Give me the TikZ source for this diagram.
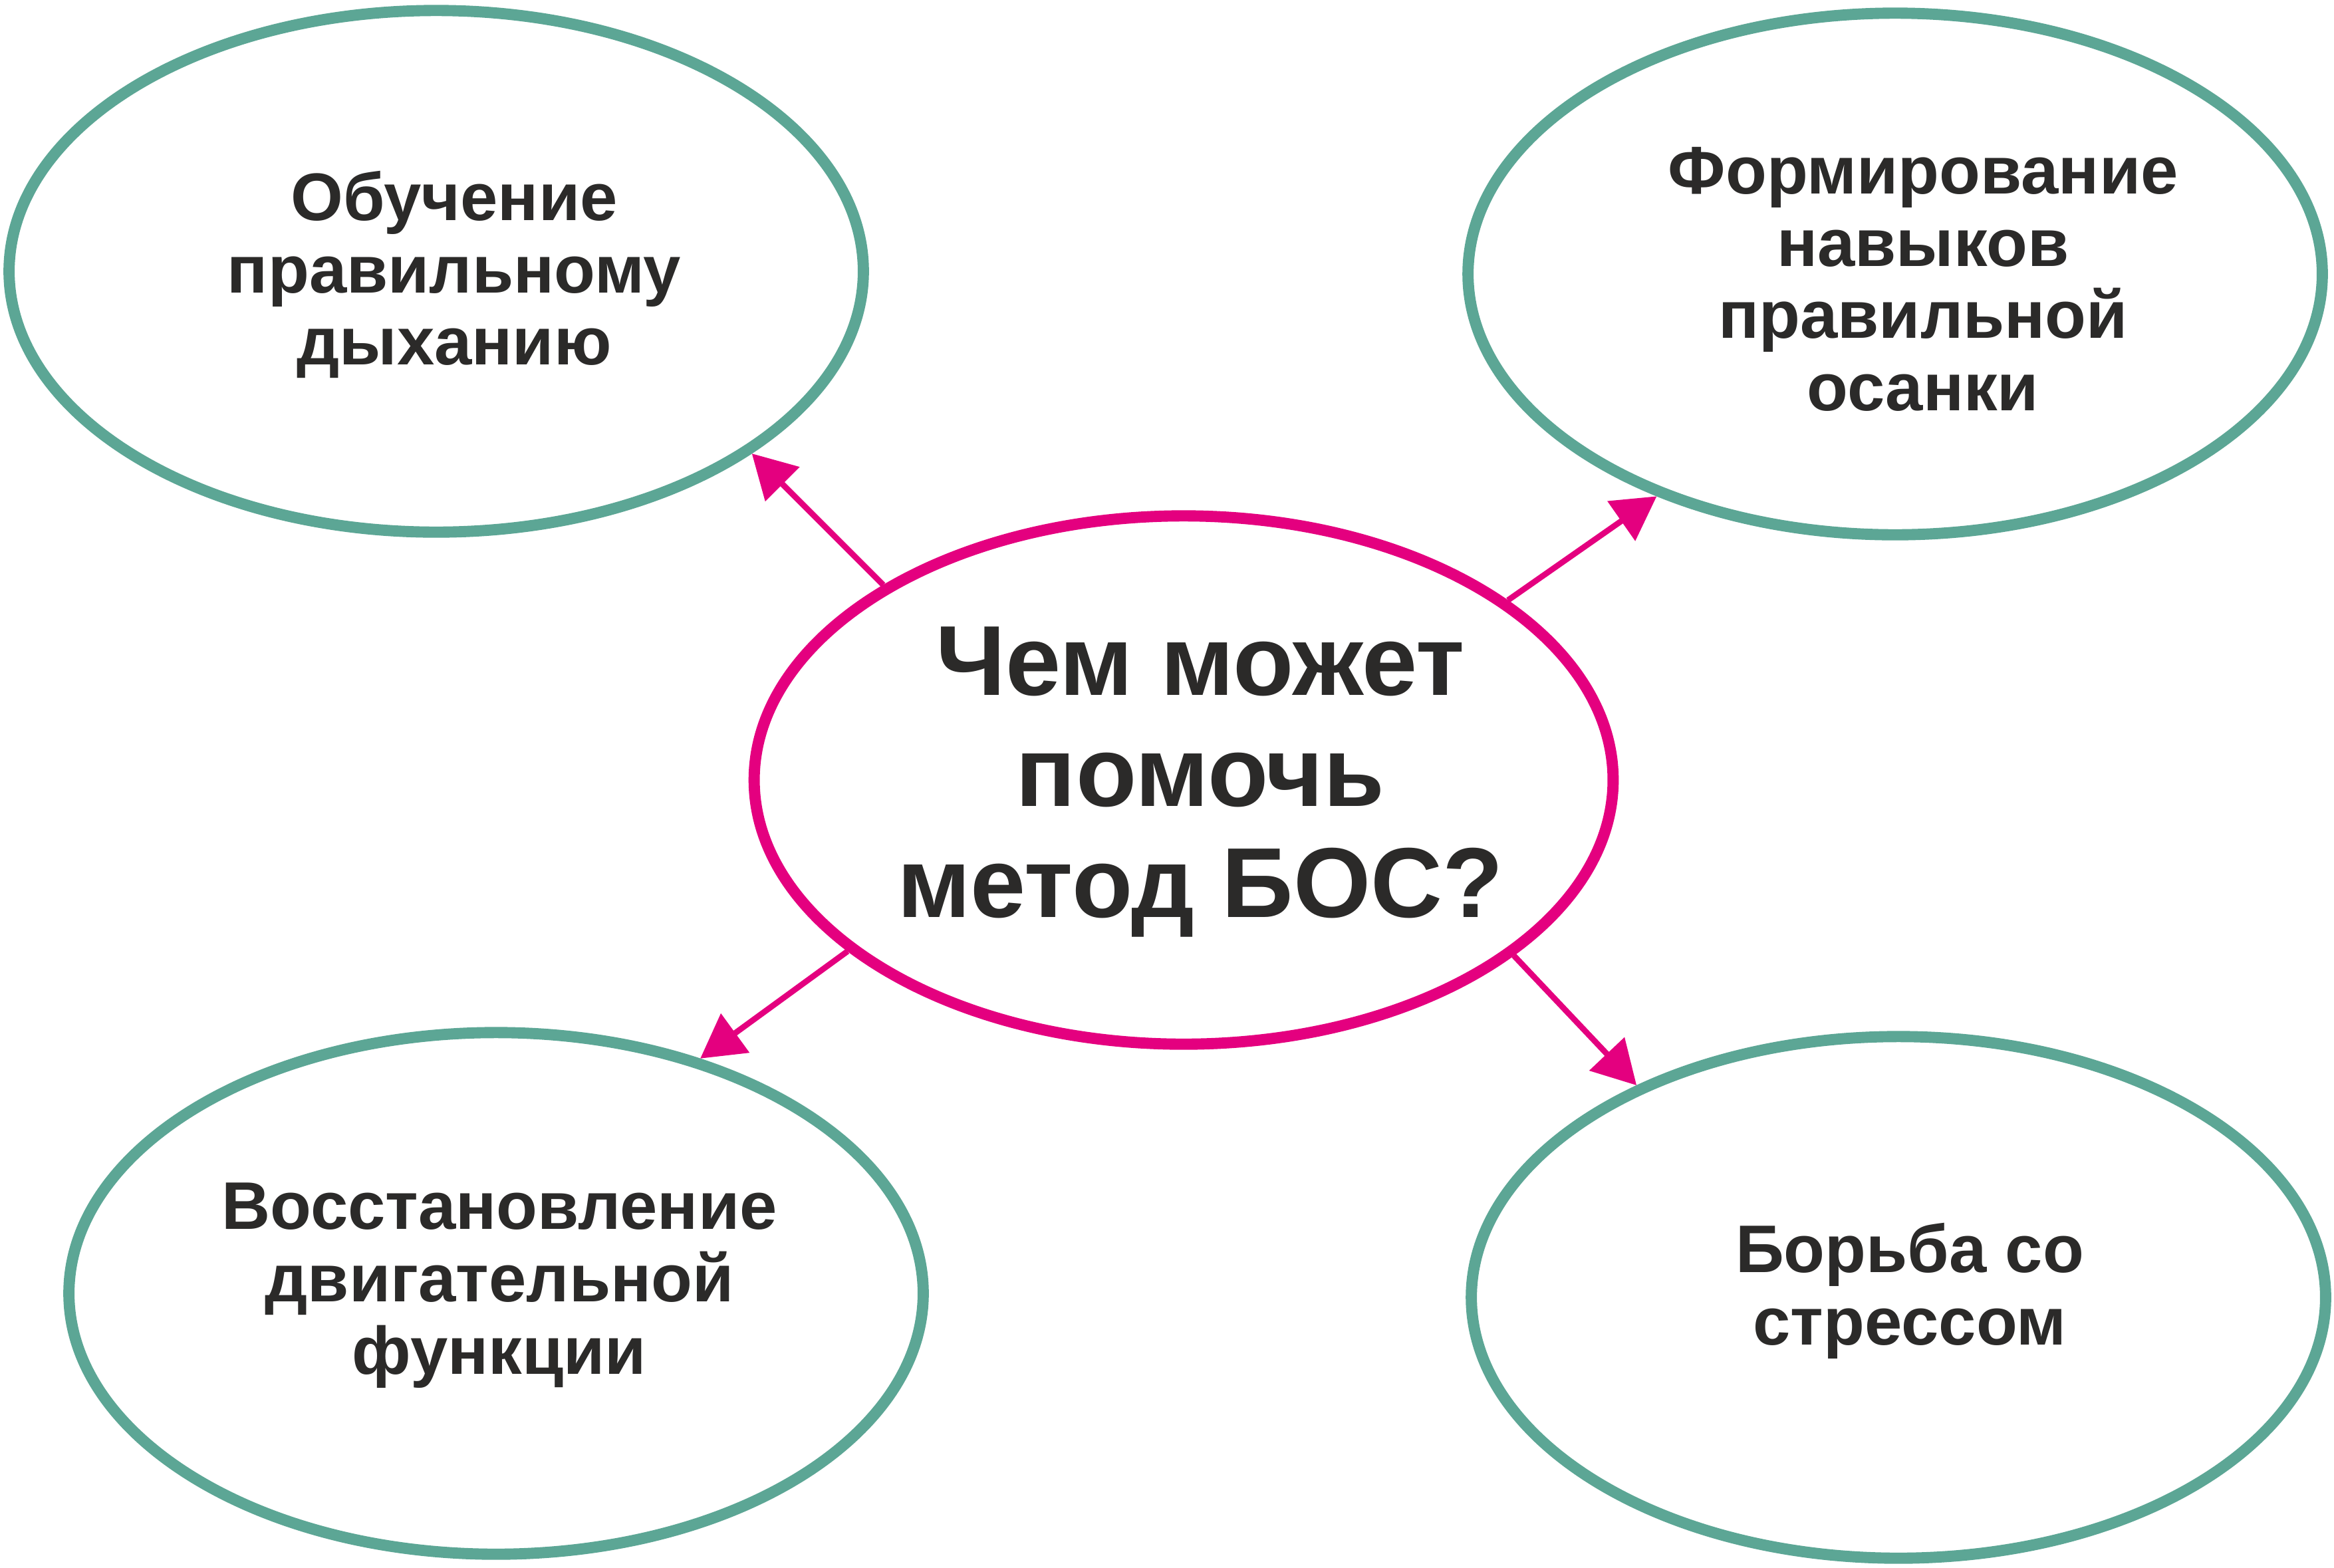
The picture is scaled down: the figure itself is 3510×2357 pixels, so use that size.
\documentclass[tikz,border=0pt]{standalone}
\usepackage{fontspec}
\setmainfont{Liberation Sans}
\usetikzlibrary{shapes.geometric,arrows.meta}
\definecolor{bosgreen}{RGB}{92,166,149}
\definecolor{bospink}{RGB}{228,0,127}
\definecolor{bostext}{RGB}{43,42,41}
\begin{document}
\begin{tikzpicture}[x=0.01cm,y=-0.01cm,
  oval/.style={ellipse, draw=bosgreen, line width=4.8pt, minimum width=12.84cm, minimum height=7.84cm, inner sep=0pt},
  hub/.style={oval, draw=bospink, minimum width=12.91cm, minimum height=7.94cm},
  lbl/.style={align=center, font=\bfseries\fontsize{28.8}{30.9}\selectfont, text=bostext, inner sep=0pt},
  hublbl/.style={align=center, font=\bfseries\fontsize{42.5}{47.5}\selectfont, text=bostext, inner sep=0pt},
  link/.style={draw=bospink, line width=2.5pt, -{Triangle[length=6.5mm,width=7.1mm]}}]
\useasboundingbox (0,0) rectangle (3510,2357);
\node[oval] (tl) at (656,408) {};
\node[oval] (tr) at (2850,412) {};
\node[hub]  (c)  at (1780,1173) {};
\node[oval] (bl) at (746,1945) {};
\node[oval] (br) at (2855,1951) {};
\node[lbl] (tltext) at (683,413) {Обучение\\правильному\\дыханию};
\node[lbl] (trtext) at (2892,420) {Формирование\\навыков\\правильной\\осанки};
\node[lbl] (bltext) at (751,1933) {Восстановление\\двигательной\\функции};
\node[lbl] (brtext) at (2872,1941) {Борьба со\\стрессом};
\node[hublbl] (ctext) at (1805,1176) {Чем может\\помочь\\метод БОС?};
\draw[link] (c.147.3) -- (tl.-30.2);
\draw[link] (c.29.5) -- (tr.-137.5);
\draw[link] (c.207.4) -- (bl.49.9);
\draw[link] (c.-28.7) -- (br.141.1);
\end{tikzpicture}
\end{document}
